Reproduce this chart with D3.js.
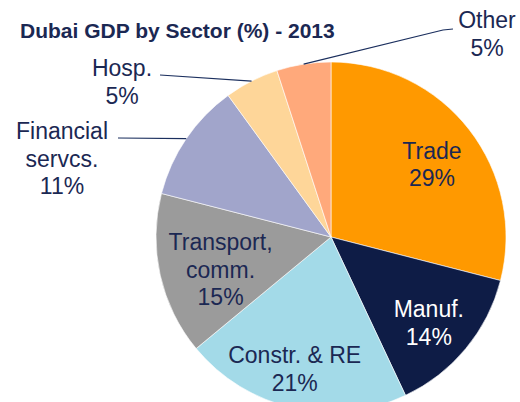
<!DOCTYPE html>
<html>
<head>
<meta charset="utf-8">
<script src="https://cdn.jsdelivr.net/npm/d3@7"></script>
<style>
  body { margin: 0; background: #fff; }
  svg text { font-family: "Liberation Sans", Arial, sans-serif; }
</style>
</head>
<body>
<svg id="chart"></svg>
<script>
// Chart data
const sectors = ['Trade', 'Manuf.', 'Constr. & RE', 'Transport, comm.', 'Financial servcs.', 'Hosp.', 'Other'];
const shares = [29, 14, 21, 15, 11, 5, 5];
const colors = ['#ff9900', '#0e1c46', '#a3dae8', '#9b9b9b', '#a1a5cb', '#fed699', '#ffa97b'];
const labelLines = [['Trade'], ['Manuf.'], ['Constr. & RE'], ['Transport,', 'comm.'], ['Financial', 'servcs.'], ['Hosp.'], ['Other']];

const width = 520, height = 402;
const cx = 331, cy = 237, radius = 175;
const textColor = '#1b2853';
const fontSize = 23, lineH = 27.5;

const svg = d3.select('#chart').attr('width', width).attr('height', height);

// Title
svg.append('text')
    .attr('x', 20).attr('y', 38)
    .style('font-size', '21px').style('font-weight', 'bold')
    .style('fill', textColor)
    .text('Dubai GDP by Sector (%) - 2013');

const pie = d3.pie().sort(null).value(d => d);
const arcs = pie(shares);
const arc = d3.arc().innerRadius(0).outerRadius(radius);

const g = svg.append('g').attr('transform', `translate(${cx},${cy})`);

g.selectAll('path')
    .data(arcs)
    .enter().append('path')
    .attr('d', arc)
    .attr('fill', (d, i) => colors[i])
    .attr('stroke', '#fff')
    .attr('stroke-width', 0.6);

// Inside labels: radius fraction + small nudge per slice
const inside = {
    0: { r: 0.73, dx: 0, dy: 14 },
    1: { r: 0.77, dx: -6, dy: 8 },
    2: { r: 0.82, dx: -5, dy: 0 },
    3: { r: 0.67, dx: 4, dy: 15 }
};
// Outside labels: first baseline (absolute) + leader line elbow
const outside = {
    4: { x: 62, y: 139, lead: [[118, 138]] },
    5: { x: 122, y: 76, lead: [[160, 75]] },
    6: { x: 487, y: 28, lead: [[453, 29], [443, 30]] }
};

function drawBlock(lines, x, firstBaseline, fill) {
    const t = svg.append('text')
        .attr('text-anchor', 'middle')
        .style('font-size', fontSize + 'px')
        .style('fill', fill);
    lines.forEach((s, k) => {
        t.append('tspan').attr('x', x).attr('y', firstBaseline + k * lineH).text(s);
    });
}

arcs.forEach((a, i) => {
    const lines = labelLines[i].concat([shares[i] + '%']);
    const mid = (a.startAngle + a.endAngle) / 2;
    if (inside[i]) {
        const o = inside[i];
        const rr = radius * o.r;
        const x = cx + rr * Math.sin(mid) + o.dx;
        const y = cy - rr * Math.cos(mid) + o.dy;
        const first = y - (lines.length - 1) * lineH / 2;
        drawBlock(lines, x, first, i === 1 ? '#fff' : textColor);
    } else {
        const o = outside[i];
        drawBlock(lines, o.x, o.y, textColor);
        const edge = [cx + radius * Math.sin(mid), cy - radius * Math.cos(mid)];
        const pts = o.lead.concat([edge]);
        svg.append('path')
            .attr('d', d3.line()(pts))
            .attr('fill', 'none')
            .attr('stroke', '#1b2f5e')
            .attr('stroke-width', 1.2);
    }
});
</script>
</body>
</html>
